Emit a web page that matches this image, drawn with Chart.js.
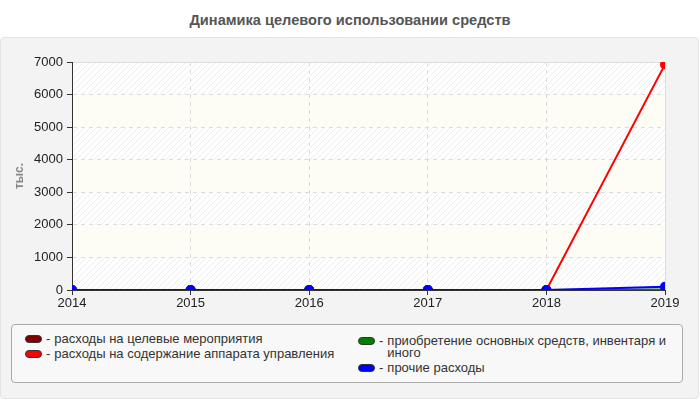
<!DOCTYPE html>
<html>
<head>
<meta charset="utf-8">
<script src="https://cdn.jsdelivr.net/npm/chart.js@4"></script>
<style>
  body { margin: 0; width: 700px; height: 400px; background: #fff; font-family: "Liberation Sans", Arial, sans-serif; position: relative; overflow: hidden; }
  #title { position: absolute; left: 0; top: 0; width: 700px; height: 37px; line-height: 40px; text-align: center; font-weight: bold; font-size: 14.6px; color: #555; }
  #panel { position: absolute; left: 0; top: 37px; width: 697px; height: 360px; background: #f3f3f3; border: 1px solid #e4e4e4; border-radius: 4px; }
  #wrap { position: absolute; left: 0; top: 38px; width: 700px; height: 282px; }
  #legend { position: absolute; left: 11px; top: 324px; width: 670px; height: 57px; border: 1px solid #aaa; border-radius: 4px; background: #f8f8f8; font-size: 13px; color: #333; }
  .col { position: absolute; top: 8px; }
  #l1 { left: 13px; width: 320px; }
  #l2 { left: 346px; width: 322px; top: 10px; }
  .item { display: flex; align-items: flex-start; line-height: 12px; margin-bottom: 3px; }
  .sw { width: 15px; height: 6px; border-radius: 4px; border: 1px solid #333; margin-top: 2px; flex: none; }
  .dash { margin: 0 4px 0 4px; flex: none; }
  .txt { flex: 1; }
</style>
</head>
<body>
<div id="title">Динамика целевого использовании средств</div>
<div id="panel"></div>
<div id="wrap"><canvas id="c" width="700" height="282"></canvas></div>
<div id="legend"><div class="col" id="l1"></div><div class="col" id="l2"></div></div>
<script>
const years = [2014, 2015, 2016, 2017, 2018, 2019];
const seriesNames = [
  'расходы на целевые мероприятия',
  'расходы на содержание аппарата управления',
  'приобретение основных средств, инвентаря и иного',
  'прочие расходы'
];
const seriesColors = ['#800000', '#ff0000', '#008000', '#0000ff'];
const targetEvents = [0, 0, 0, 0, 0, 0];
const adminCosts = [0, 0, 0, 0, 0, 6925];
const assets = [0, 0, 0, 0, 0, 12];
const otherCosts = [0, 0, 0, 0, 0, 100];
const seriesValues = [targetEvents, adminCosts, assets, otherCosts];
const yTicksMax = 7000;

// legend, two columns
seriesNames.forEach(function(name, i) {
  const col = document.getElementById(i < 2 ? 'l1' : 'l2');
  const d = document.createElement('div');
  d.className = 'item';
  d.innerHTML = '<span class="sw" style="background:' + seriesColors[i] + '"></span><span class="dash">-</span><span class="txt"></span>';
  d.lastChild.textContent = name;
  col.appendChild(d);
});

// hatch pattern for the bands
const pc = document.createElement('canvas');
pc.width = 6; pc.height = 6;
const px = pc.getContext('2d');
px.fillStyle = '#ffffff';
px.fillRect(0, 0, 6, 6);
px.strokeStyle = '#ededed';
px.lineWidth = 1;
px.beginPath();
px.moveTo(-1, 7); px.lineTo(7, -1);
px.moveTo(-1, 1); px.lineTo(1, -1);
px.moveTo(5, 7); px.lineTo(7, 5);
px.stroke();

const bandsPlugin = {
  id: 'bands',
  beforeDraw: function(chart) {
    const ctx = chart.ctx, a = chart.chartArea, y = chart.scales.y;
    const pat = ctx.createPattern(pc, 'repeat');
    ctx.save();
    const ticks = y.ticks;
    for (let i = 0; i < ticks.length - 1; i++) {
      const top = y.getPixelForValue(ticks[i + 1].value);
      const bot = y.getPixelForValue(ticks[i].value);
      const fromTop = ticks.length - 2 - i;
      ctx.fillStyle = fromTop % 2 === 0 ? pat : '#fdfdf6';
      ctx.fillRect(a.left, top, a.right - a.left, bot - top);
    }
    ctx.strokeStyle = '#dddddd';
    ctx.lineWidth = 1;
    ctx.beginPath();
    ctx.moveTo(a.left, a.top + 0.5); ctx.lineTo(a.right + 0.5, a.top + 0.5); ctx.lineTo(a.right + 0.5, a.bottom);
    ctx.stroke();
    ctx.restore();
  }
};

new Chart(document.getElementById('c').getContext('2d'), {
  type: 'line',
  data: {
    datasets: seriesNames.map(function(name, i) {
      return {
        label: name,
        data: years.map(function(yr, j) { return { x: yr, y: seriesValues[i][j] }; }),
        borderColor: seriesColors[i],
        backgroundColor: seriesColors[i],
        borderWidth: 2,
        pointRadius: 4,
        pointHoverRadius: 4,
        fill: false,
        tension: 0,
        order: seriesNames.length - i  // last series on top
      };
    })
  },
  options: {
    responsive: false,
    animation: false,
    devicePixelRatio: 1,
    layout: { padding: { left: 0, right: 35, top: 24, bottom: 0 } },
    plugins: { legend: { display: false }, tooltip: { enabled: false } },
    scales: {
      x: {
        type: 'linear',
        min: years[0],
        max: years[years.length - 1],
        afterFit: function(s) { s.height = 30; },
        ticks: { stepSize: 1, color: '#222', font: { size: 13, family: 'Liberation Sans' }, padding: 1, maxRotation: 0,
          callback: function(v) { return String(v); } },
        grid: { color: '#dddddd', tickBorderDash: [], tickColor: '#333', tickLength: 5, tickWidth: 1 },
        border: { color: '#333', width: 1, dash: [4, 4] }
      },
      y: {
        min: 0,
        max: yTicksMax,
        afterFit: function(s) { s.width = 72; },
        ticks: { stepSize: 1000, color: '#222', font: { size: 13, family: 'Liberation Sans' }, padding: 4,
          callback: function(v) { return String(v); } },
        grid: { color: '#dddddd', tickBorderDash: [], tickColor: '#333', tickLength: 5, tickWidth: 1 },
        border: { color: '#333', width: 1, dash: [4, 4] },
        title: { display: true, text: 'тыс.', color: '#888', font: { size: 12, weight: 'bold', family: 'Liberation Sans' }, padding: { top: 12 } }
      }
    }
  },
  plugins: [bandsPlugin]
});
</script>
</body>
</html>
